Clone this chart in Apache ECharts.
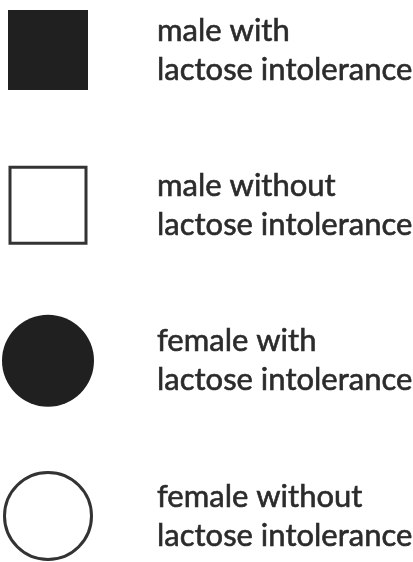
<!DOCTYPE html>
<html>
<head>
<meta charset="utf-8">
<script src="https://cdn.jsdelivr.net/npm/echarts@6/dist/echarts.min.js"></script>
<style>
  html, body { margin: 0; padding: 0; background: #fff; }
  #key { width: 413px; height: 562px; }
</style>
</head>
<body>
<div id="key"></div>
<script>
// pedigree key: one row per entry
const sexes = ['male', 'male', 'female', 'female'];
const conditions = ['with', 'without', 'with', 'without'];
const affected = [true, false, true, false];
const rows = [0, 1, 2, 3];

const dom = document.getElementById('key');
const myChart = echarts.init(dom, null, { renderer: 'canvas' });

const ink = '#202020';
const textLeft = 157;   // where the label text starts
const markX = 48;       // centre of the symbols

const data = rows.map((r, i) => {
    const isMale = sexes[i] === 'male';
    const filled = affected[i];
    const size = isMale ? (filled ? 80 : 76) : (filled ? 92 : 87);
    return {
        value: [0, r],
        symbol: isMale ? 'rect' : 'circle',
        symbolSize: size,
        itemStyle: filled
            ? { color: ink, borderWidth: 0, opacity: 1 }
            : { color: '#fff', borderColor: '#333', borderWidth: 3, opacity: 1 },
        label: {
            distance: textLeft - markX - size / 2 - (filled ? 0 : 1.5),
            formatter: sexes[i] + ' ' + conditions[i] + '\nlactose intolerance'
        }
    };
});

const option = {
    backgroundColor: '#fff',
    animation: false,
    grid: { left: markX, right: 0, top: 50, bottom: 46 },
    xAxis: { type: 'value', min: 0, max: 1, show: false },
    yAxis: { type: 'value', min: 0, max: 3, inverse: true, show: false },
    series: [{
        type: 'scatter',
        clip: false,
        data: data,
        emphasis: { disabled: true },
        label: {
            show: true,
            position: 'right',
            align: 'left',
            verticalAlign: 'middle',
            color: '#2b2b2b',
            textBorderColor: '#2b2b2b',
            textBorderWidth: 0.6,
            fontFamily: 'Lato',
            fontSize: 31,
            lineHeight: 39
        }
    }]
};
myChart.setOption(option);
window.addEventListener('resize', () => myChart.resize());
</script>
</body>
</html>
